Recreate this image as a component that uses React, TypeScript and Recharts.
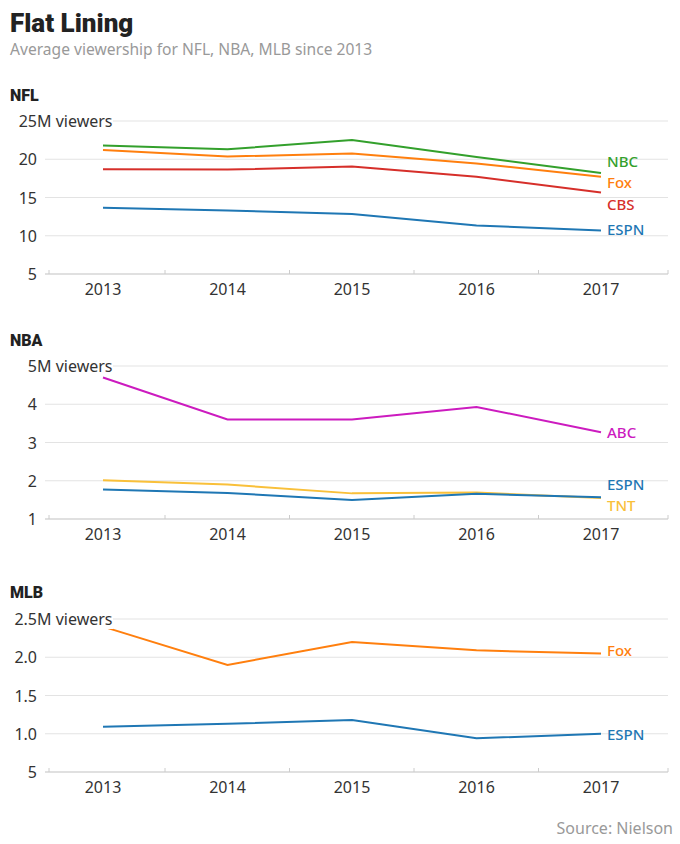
import React from 'react';
import { LineChart, Line, XAxis, YAxis, CartesianGrid, LabelList } from 'recharts';

const years = ['2013', '2014', '2015', '2016', '2017'];

// NFL (millions of viewers)
const nflNBC = [21.8, 21.3, 22.5, 20.3, 18.2];
const nflFox = [21.2, 20.35, 20.75, 19.45, 17.7];
const nflCBS = [18.7, 18.65, 19.05, 17.7, 15.65];
const nflESPN = [13.65, 13.3, 12.85, 11.35, 10.7];
const nflTicks = [5, 10, 15, 20, 25];
const nflTickLabels = ['5', '10', '15', '20', '25'];

// NBA
const nbaABC = [4.7, 3.6, 3.6, 3.93, 3.27];
const nbaTNT = [2.01, 1.9, 1.67, 1.69, 1.55];
const nbaESPN = [1.77, 1.68, 1.5, 1.66, 1.57];
const nbaTicks = [1, 2, 3, 4, 5];
const nbaTickLabels = ['1', '2', '3', '4', '5'];

// MLB
const mlbFox = [2.4, 1.9, 2.2, 2.09, 2.05];
const mlbESPN = [1.09, 1.13, 1.18, 0.94, 1.0];
const mlbTicks = [0.5, 1, 1.5, 2, 2.5];
const mlbTickLabels = ['5', '1.0', '1.5', '2.0', '2.5'];

const FONT = "'Noto Sans', 'Open Sans', sans-serif";
const C = {
  green: '#33a02c',
  orange: '#ff7f0e',
  red: '#d62f2a',
  blue: '#1f77b4',
  magenta: '#cc1bbf',
  yellow: '#f9c03a',
};

type S = { key: string; values: number[]; color: string; dy: number };

const buildRows = (series: S[]) =>
  years.map((y, i) => {
    const row: any = { year: y };
    series.forEach((s) => (row[s.key] = s.values[i]));
    return row;
  });

const YTick = (labels: string[], ticks: number[]) => (props: any) => {
  const { x, y, payload } = props;
  const idx = ticks.indexOf(payload.value);
  const label = labels[idx] ?? String(payload.value);
  const isTop = idx === ticks.length - 1;
  const tx = x - 8;
  return (
    <g>
      {isTop && <rect x={tx} y={y - 10} width={76} height={20} fill="#fff" />}
      <text x={tx} y={y} textAnchor="end" dominantBaseline="central" fontSize={16} fill="#333" fontFamily={FONT}>
        {label}
      </text>
      {isTop && (
        <text x={tx} y={y} textAnchor="start" dominantBaseline="central" fontSize={16} fill="#333" fontFamily={FONT}>
          M viewers
        </text>
      )}
    </g>
  );
};

const XTick = (props: any) => {
  const { x, y, payload, index } = props;
  const marks: number[] = [];
  if (index === 0) marks.push(x - 54);
  if (index < years.length - 1) marks.push(x + 62);
  if (index === years.length - 1) marks.push(x + 67);
  return (
    <g>
      {marks.map((mx, i) => (
        <line key={i} x1={mx} x2={mx} y1={y} y2={y - 4} stroke="#ccc" strokeWidth={1} />
      ))}
      <text x={x} y={y + 21} textAnchor="middle" fontSize={16} fill="#333" fontFamily={FONT}>
        {payload.value}
      </text>
    </g>
  );
};

const endLabel = (name: string, color: string, dy: number) => (props: any) => {
  const { x, y, index } = props;
  if (index !== years.length - 1) return null;
  return (
    <text x={x + 6} y={y + dy} dominantBaseline="central" fontSize={15} fontWeight={500} fill={color} fontFamily={FONT}>
      {name}
    </text>
  );
};

const PLOT_H = 153;
const TOP_M = 10;

const Panel = ({ top, series, ticks, labels }: { top: number; series: S[]; ticks: number[]; labels: string[] }) => {
  const rows = buildRows(series);
  return (
    <div style={{ position: 'absolute', left: 0, top: top - TOP_M }}>
      <LineChart width={680} height={PLOT_H + TOP_M + 32} data={rows} margin={{ top: TOP_M, right: 12, left: 0, bottom: 0 }}>
        <CartesianGrid horizontal vertical={false} stroke="#e3e3e3" strokeWidth={1} />
        <XAxis
          dataKey="year"
          padding={{ left: 58, right: 67 }}
          height={32}
          tickSize={0}
          tickMargin={0}
          tickLine={false}
          axisLine={{ stroke: '#cfcfcf' }}
          tick={<XTick />}
          interval={0}
        />
        <YAxis
          width={45}
          domain={[ticks[0], ticks[ticks.length - 1]]}
          ticks={ticks}
          tickSize={0}
          tickMargin={0}
          tickLine={false}
          axisLine={false}
          tick={YTick(labels, ticks)}
          interval={0}
        />
        {series.map((s) => (
          <Line
            key={s.key}
            dataKey={s.key}
            stroke={s.color}
            strokeWidth={2}
            dot={false}
            activeDot={false}
            isAnimationActive={false}
          >
            <LabelList dataKey={s.key} content={endLabel(s.key, s.color, s.dy)} />
          </Line>
        ))}
      </LineChart>
    </div>
  );
};

const nflSeries: S[] = [
  { key: 'ESPN', values: nflESPN, color: C.blue, dy: -1 },
  { key: 'CBS', values: nflCBS, color: C.red, dy: 11 },
  { key: 'Fox', values: nflFox, color: C.orange, dy: 5 },
  { key: 'NBC', values: nflNBC, color: C.green, dy: -12 },
];
const nbaSeries: S[] = [
  { key: 'TNT', values: nbaTNT, color: C.yellow, dy: 7 },
  { key: 'ESPN', values: nbaESPN, color: C.blue, dy: -13 },
  { key: 'ABC', values: nbaABC, color: C.magenta, dy: 0 },
];
const mlbSeries: S[] = [
  { key: 'ESPN', values: mlbESPN, color: C.blue, dy: 0 },
  { key: 'Fox', values: mlbFox, color: C.orange, dy: -3 },
];

export default function App() {
  return (
    <div style={{ position: 'absolute', left: 0, top: 0, width: 680, height: 844, background: '#fff' }}>
      <svg width={680} height={844} style={{ position: 'absolute', left: 0, top: 0 }}>
        <text x={10} y={32} fontSize={26} fontWeight={900} fill="#222" fontFamily="Roboto, sans-serif">
          Flat Lining
        </text>
        <text x={10} y={55} fontSize={15.6} fill="#999" fontFamily={FONT}>
          Average viewership for NFL, NBA, MLB since 2013
        </text>
        <text x={10} y={101} fontSize={16} fontWeight={900} fill="#222" fontFamily="Roboto, sans-serif">
          NFL
        </text>
        <text x={10} y={346} fontSize={16} fontWeight={900} fill="#222" fontFamily="Roboto, sans-serif">
          NBA
        </text>
        <text x={10} y={598} fontSize={16} fontWeight={900} fill="#222" fontFamily="Roboto, sans-serif">
          MLB
        </text>
        <text x={673} y={834} textAnchor="end" fontSize={16} fill="#999" fontFamily={FONT}>
          Source: Nielson
        </text>
      </svg>
      <Panel top={121} series={nflSeries} ticks={nflTicks} labels={nflTickLabels} />
      <Panel top={366} series={nbaSeries} ticks={nbaTicks} labels={nbaTickLabels} />
      <Panel top={619} series={mlbSeries} ticks={mlbTicks} labels={mlbTickLabels} />
    </div>
  );
}
